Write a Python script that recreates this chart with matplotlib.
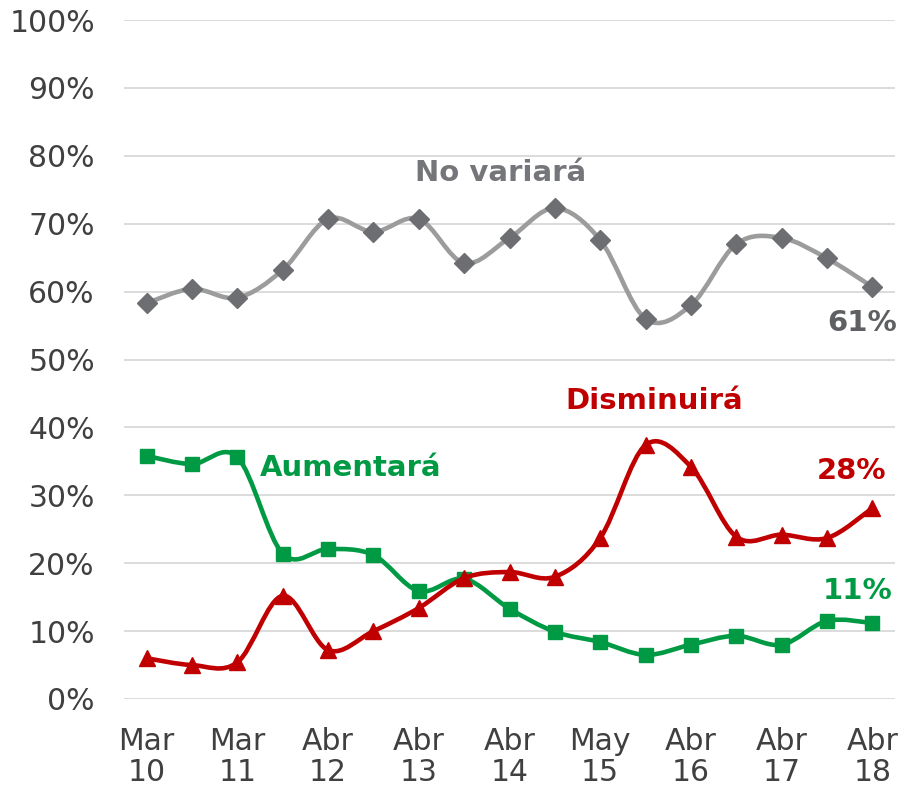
import matplotlib
matplotlib.use("Agg")
import matplotlib.pyplot as plt
from matplotlib.path import Path
from matplotlib.patches import PathPatch
import numpy as np

tick_labels = ["Mar\n10", "Mar\n11", "Abr\n12", "Abr\n13", "Abr\n14",
               "May\n15", "Abr\n16", "Abr\n17", "Abr\n18"]
no_variara = [58.3, 60.4, 59.1, 63.2, 70.7, 68.8, 70.7, 64.2, 67.9,
              72.3, 67.6, 56.0, 58.0, 67.0, 67.9, 64.9, 60.7]
aumentara = [35.8, 34.6, 35.6, 21.4, 22.1, 21.2, 15.9, 17.7, 13.3,
             9.9, 8.4, 6.5, 8.0, 9.3, 8.0, 11.5, 11.2]
disminuira = [6.0, 5.0, 5.4, 15.2, 7.2, 10.0, 13.4, 17.8, 18.7,
              18.0, 23.7, 37.4, 34.2, 23.9, 24.2, 23.7, 28.1]

GRAY_LINE = "#9c9c9c"
GRAY_MK = "#6d6e71"
GREEN = "#009a44"
RED = "#c00000"

fig = plt.figure(figsize=(8.99, 7.87), dpi=100)
ax = fig.add_axes([124/899, 1-699/787, (895-124)/899, (699-20)/787])


def smooth_path(xs, ys):
    xs = np.asarray(xs, float)
    ys = np.asarray(ys, float)
    n = len(xs)
    verts = [(xs[0], ys[0])]
    codes = [Path.MOVETO]
    for i in range(n - 1):
        p0 = np.array([xs[max(i-1, 0)], ys[max(i-1, 0)]])
        p1 = np.array([xs[i], ys[i]])
        p2 = np.array([xs[i+1], ys[i+1]])
        p3 = np.array([xs[min(i+2, n-1)], ys[min(i+2, n-1)]])
        c1 = p1 + (p2 - p0) / 6.0
        c2 = p2 - (p3 - p1) / 6.0
        verts += [tuple(c1), tuple(c2), tuple(p2)]
        codes += [Path.CURVE4] * 3
    return Path(verts, codes)


x = np.arange(len(no_variara))

series = [
    (no_variara, GRAY_LINE, GRAY_MK, "D", 10),
    (aumentara, GREEN, GREEN, "s", 10),
    (disminuira, RED, RED, "^", 12),
]
for z, (vals, lc, mc, mk, ms) in enumerate(series):
    v = np.array(vals) / 100.0
    patch = PathPatch(smooth_path(x, v), facecolor="none", edgecolor=lc,
                      lw=3.3, zorder=3 + 2*z, capstyle="round", joinstyle="round")
    ax.add_patch(patch)
    ax.plot(x, v, linestyle="none", marker=mk, markersize=ms, color=mc,
            markeredgecolor=mc, zorder=4 + 2*z)

ax.set_xlim(-0.5, len(x) - 0.5)
ax.set_ylim(0, 1.0)
ax.set_yticks(np.arange(0, 1.01, 0.1))
ax.set_yticklabels([f"{int(round(t*100))}%" for t in np.arange(0, 1.01, 0.1)])
ax.set_xticks(x[::2])
ax.set_xticklabels(tick_labels, linespacing=1.1)
ax.tick_params(axis="both", length=0, labelsize=21.5, colors="#404040")
ax.tick_params(axis="y", pad=21)
ax.tick_params(axis="x", pad=20)
ax.grid(axis="y", color="#d9d9d9", lw=1.3, zorder=0)
ax.set_axisbelow(True)
for s in ax.spines.values():
    s.set_visible(False)

bold = dict(fontsize=21, fontweight="bold", ha="center", va="center")
ax.text(7.8, (699-173)/679, "No variará", color="#747679", **bold)
ax.text(11.2, (699-401)/679, "Disminuirá", color=RED, **bold)
ax.text(4.5, (699-468)/679, "Aumentará", color=GREEN, **bold)
ax.text(15.77, (699-323)/679, "61%", color="#5f6063", **bold)
ax.text(15.55, (699-471)/679, "28%", color=RED, **bold)
ax.text(15.68, (699-591)/679, "11%", color=GREEN, **bold)

fig.savefig("out.png", dpi=100)
